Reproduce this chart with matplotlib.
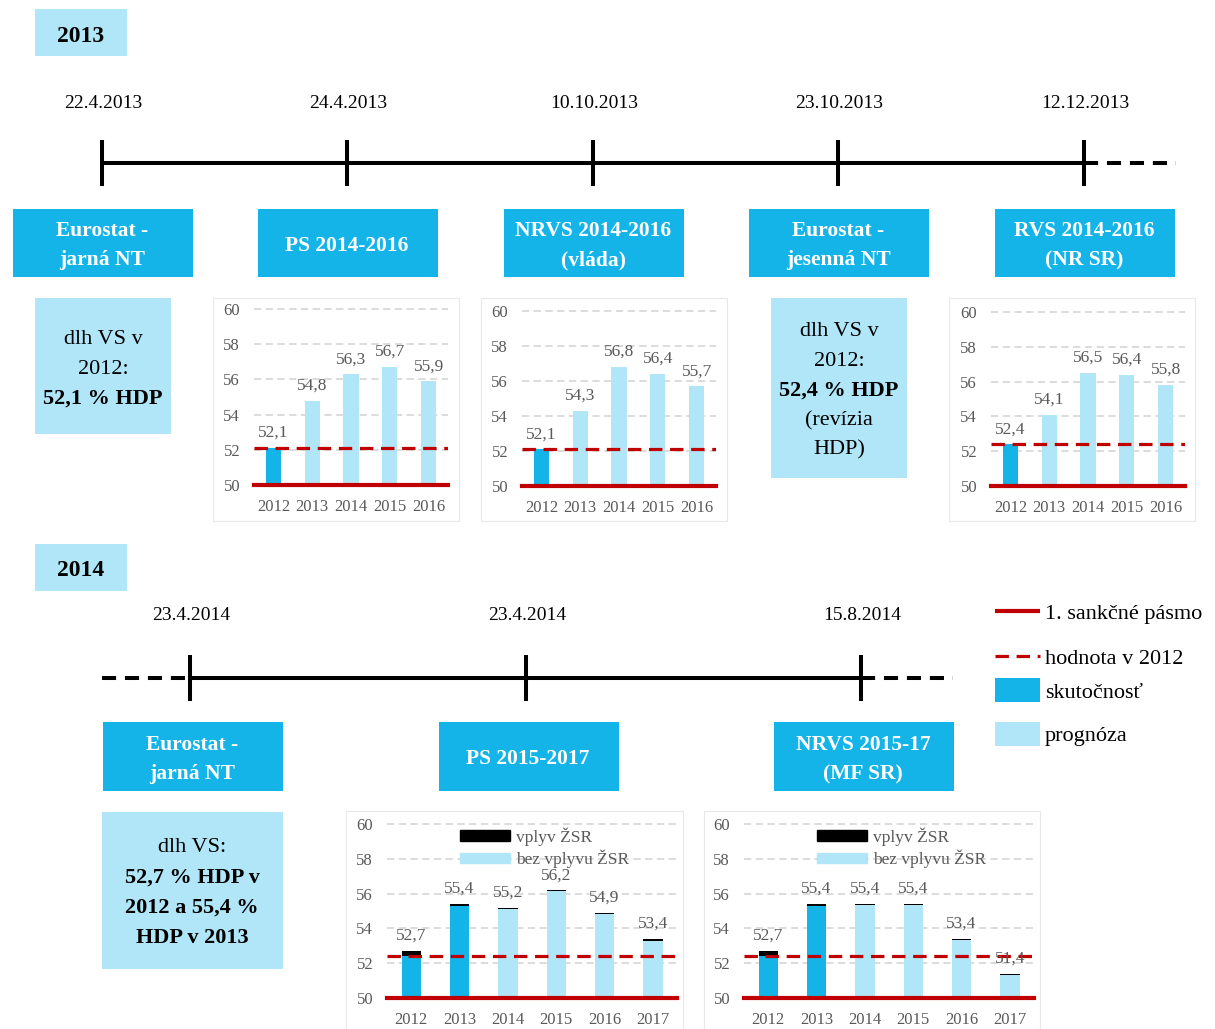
import numpy as np
import matplotlib
matplotlib.use('Agg')
import matplotlib.pyplot as plt
from matplotlib.patches import Rectangle, Patch

plt.rcParams['font.family'] = ['Liberation Serif', 'DejaVu Serif']

W, H = 1215, 1029
DARK = '#14B4E9'
LIGHT = '#B0E6F7'
RED = '#C00000'
GRAY = '#595959'
GRID = '#D9D9D9'

# debt in % of GDP, 2013 documents
years_a = ['2012', '2013', '2014', '2015', '2016']
ps_2014_16 = [52.1, 54.8, 56.3, 56.7, 55.9]
nrvs_2014_16 = [52.1, 54.3, 56.8, 56.4, 55.7]
rvs_2014_16 = [52.4, 54.1, 56.5, 56.4, 55.8]
ref_2012_a = [52.1, 52.1, 52.4]

# 2014 documents, totals and the ZSR part on top
years_b = ['2012', '2013', '2014', '2015', '2016', '2017']
ps_2015_17 = [52.7, 55.4, 55.2, 56.2, 54.9, 53.4]
ps_2015_17_zsr = [0.3, 0.1, 0.1, 0.05, 0.1, 0.1]
nrvs_2015_17 = [52.7, 55.4, 55.4, 55.4, 53.4, 51.4]
nrvs_2015_17_zsr = [0.3, 0.1, 0.05, 0.05, 0.05, 0.05]
ref_2012_b = 52.4

dates_2013 = ['22.4.2013', '24.4.2013', '10.10.2013', '23.10.2013', '12.12.2013']
docs_2013 = [['Eurostat -', 'jarná NT'], ['PS 2014-2016'], ['NRVS 2014-2016', '(vláda)'],
             ['Eurostat -', 'jesenná NT'], ['RVS 2014-2016', '(NR SR)']]
dates_2014 = ['23.4.2014', '23.4.2014', '15.8.2014']
docs_2014 = [['Eurostat -', 'jarná NT'], ['PS 2015-2017'], ['NRVS 2015-17', '(MF SR)']]

fig = plt.figure(figsize=(W / 100, H / 100), dpi=100)
ax0 = fig.add_axes([0, 0, 1, 1])
ax0.set_xlim(0, W)
ax0.set_ylim(H, 0)
ax0.axis('off')

TY = 3  # text sits a little lower than the geometric centre


def text(x, y, s, **kw):
    kw.setdefault('va', 'center')
    ax0.text(x, y + TY, s, **kw)


def box(x0, y0, x1, y1, color, **kw):
    ax0.add_patch(Rectangle((x0, y0), x1 - x0, y1 - y0, color=color, lw=0, **kw))


def label_lines(x, y_first, step, texts, size, color='black', bold=()):
    for i, t in enumerate(texts):
        text(x, y_first + i * step, t, ha='center', fontsize=size,
             color=color, fontweight='bold' if i in bold else 'normal')


def doc_box(xc, y0, y1, texts):
    box(xc - 89, y0, xc + 91, y1, DARK)
    yc = (y0 + y1) / 2
    if len(texts) == 1:
        label_lines(xc, yc, 0, texts, 15.5, 'white', bold=(0,))
    else:
        label_lines(xc, yc - 14.5, 29, texts, 15.5, 'white', bold=(0, 1))


def timeline(y, xs, solid, dashed):
    ax0.plot(solid, [y, y], color='black', lw=2.9, solid_capstyle='butt')
    for seg in dashed:
        ax0.plot(seg, [y, y], color='black', lw=2.9, ls=(0, (3.5, 2.2)), dash_capstyle='butt')
    for x in xs:
        ax0.plot([x, x], [y - 23, y + 23], color='black', lw=2.9, solid_capstyle='butt')


# year headers
box(35, 9, 127, 56, LIGHT)
text(81, 33, '2013', ha='center', fontsize=17, fontweight='bold')
box(35, 544, 127, 591, LIGHT)
text(81, 568, '2014', ha='center', fontsize=17, fontweight='bold')

# 2013 timeline
xs_2013 = [102, 347, 593, 838, 1084]
for x, d in zip(xs_2013, dates_2013):
    text(x + 1, 100, d, ha='center', fontsize=14)
timeline(163, xs_2013, [102, 1084], [[1084, 1176]])
for x, t in zip(xs_2013, docs_2013):
    doc_box(x, 209, 277, t)

# 2014 timeline
xs_2014 = [190, 526, 861]
for x, d in zip(xs_2014, dates_2014):
    text(x + 1, 613, d, ha='center', fontsize=14)
timeline(678, xs_2014, [190, 861], [[102, 190], [861, 953]])
for x, t in zip(xs_2014, docs_2014):
    doc_box(x + 2, 722, 791, t)

# info boxes
box(35, 298, 171, 434, LIGHT)
label_lines(103, 336, 30, ['dlh VS v', '2012:', '52,1 % HDP'], 16, bold=(2,))
box(771, 298, 907, 478, LIGHT)
label_lines(839, 329, 29.5, ['dlh VS v', '2012:', '52,4 % HDP', '(revízia', 'HDP)'], 16, bold=(2,))
box(102, 812, 283, 969, LIGHT)
label_lines(192, 845, 30, ['dlh VS:', '52,7 % HDP v', '2012 a 55,4 %', 'HDP v 2013'], 16,
            bold=(1, 2, 3))

# chart frames
for fx0, fy0, fx1, fy1 in [(213, 298, 459, 521), (481, 298, 727, 521), (949, 298, 1195, 521),
                           (346, 811, 683, 1040), (704, 811, 1040, 1040)]:
    ax0.add_patch(Rectangle((fx0, fy0), fx1 - fx0, fy1 - fy0, fill=False, ec='#E8E8E8', lw=0.8))


def fmt(v):
    return f'{v:.1f}'.replace('.', ',')


def bar_chart(x0, x1, y60, y50, years, values, n_actual, ref, width, zsr=None):
    ax = fig.add_axes([x0 / W, 1 - y50 / H, (x1 - x0) / W, (y50 - y60 + 2) / H])
    ax.set_facecolor('none')
    n = len(values)
    x = np.arange(n)
    colors = [DARK if i < n_actual else LIGHT for i in range(n)]
    vals = np.array(values)
    if zsr is None:
        ax.bar(x, vals, width=width, color=colors, zorder=2)
    else:
        z = np.array(zsr)
        ax.bar(x, vals - z, width=width, color=colors, zorder=2)
        ax.bar(x, z, bottom=vals - z, width=width, color='black', zorder=2)
    for xi, v in zip(x, values):
        ax.annotate(fmt(v), (xi, v), xytext=(0, 5), textcoords='offset points',
                    ha='center', va='bottom', fontsize=12.5, color=GRAY, zorder=5)
    ax.axhline(ref, color=RED, lw=2.3, ls=(0, (4.2, 2.4)), zorder=3)
    ax.axhline(50, color=RED, lw=3, zorder=4, clip_on=False)
    ax.set_xlim(-0.5, n - 0.5)
    ax.set_ylim(50, 60 + 2 * 10 / (y50 - y60))
    ax.set_yticks(range(50, 61, 2))
    ax.set_xticks(x)
    ax.set_xticklabels(years)
    ax.yaxis.grid(True, color=GRID, lw=1.3, ls=(0, (4, 2.5)))
    ax.set_axisbelow(True)
    for s in ax.spines.values():
        s.set_visible(False)
    ax.tick_params(length=0, labelsize=12, labelcolor=GRAY)
    ax.tick_params(axis='x', pad=10)
    ax.tick_params(axis='y', pad=10)
    if zsr is not None:
        ax.legend(handles=[Patch(color='black'), Patch(color=LIGHT)],
                  labels=['vplyv ŽSR', 'bez vplyvu ŽSR'], loc='upper left',
                  bbox_to_anchor=(0.25, 0.97), frameon=False,
                  fontsize=12.5, labelcolor=GRAY, handlelength=2.9, handleheight=0.55,
                  handletextpad=0.35, labelspacing=0.22, borderpad=0, borderaxespad=0)
    return ax


bar_chart(254, 448, 309, 485, years_a, ps_2014_16, 1, ref_2012_a[0], 0.39)
bar_chart(522, 716, 311, 486, years_a, nrvs_2014_16, 1, ref_2012_a[1], 0.39)
bar_chart(991, 1185, 312, 486, years_a, rvs_2014_16, 1, ref_2012_a[2], 0.39)
bar_chart(387, 677, 824, 998, years_b, ps_2015_17, 2, ref_2012_b, 0.4, ps_2015_17_zsr)
bar_chart(744, 1034, 824, 998, years_b, nrvs_2015_17, 2, ref_2012_b, 0.4, nrvs_2015_17_zsr)

# main legend
ax0.plot([995, 1040], [611, 611], color=RED, lw=3, solid_capstyle='butt')
text(1045, 611, '1. sankčné pásmo', fontsize=16)
ax0.plot([995, 1040], [656, 656], color=RED, lw=2.3, ls=(0, (4.2, 2.4)), dash_capstyle='butt')
text(1045, 656, 'hodnota v 2012', fontsize=16)
box(995, 678, 1040, 702, DARK)
text(1045, 690, 'skutočnosť', fontsize=16)
box(995, 722, 1040, 746, LIGHT)
text(1045, 733, 'prognóza', fontsize=16)

fig.savefig('out.png', dpi=100)
